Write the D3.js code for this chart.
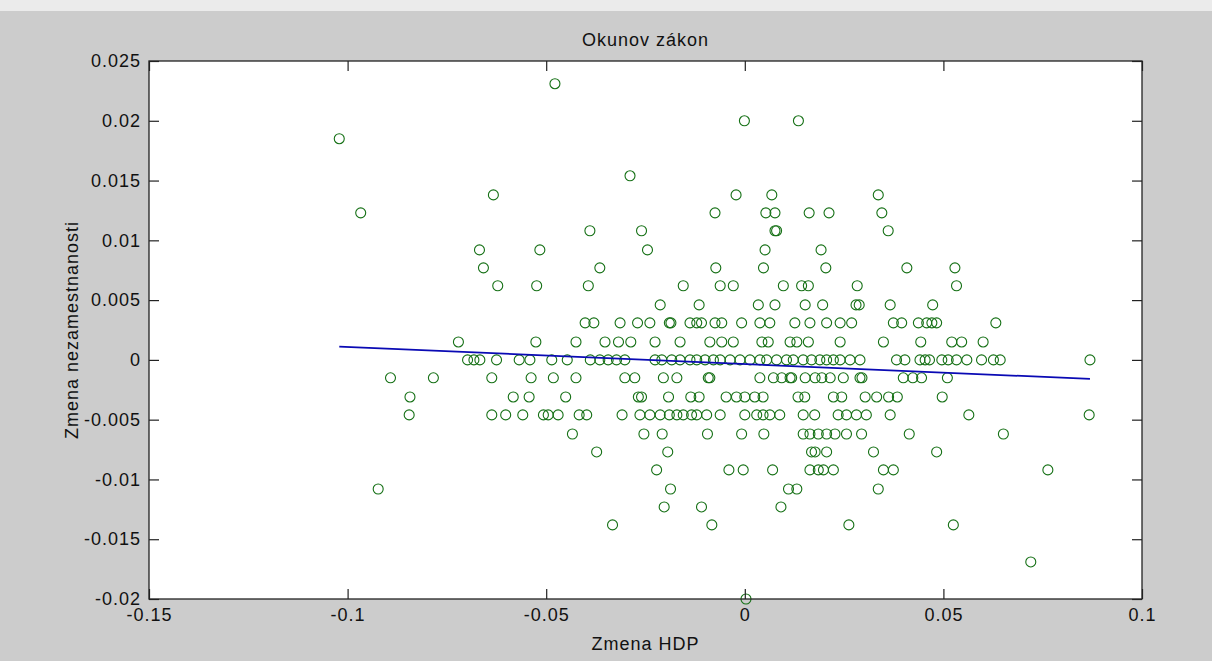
<!DOCTYPE html>
<html>
<head>
<meta charset="utf-8">
<script src="https://cdn.jsdelivr.net/npm/d3@7"></script>
<style>
  html, body { margin: 0; padding: 0; background: #cccccc; }
  svg { display: block; }
  text { font-family: "Liberation Sans", Arial, sans-serif; fill: #111; letter-spacing: 1px; }
</style>
</head>
<body>
<svg id="chart" width="1212" height="661"></svg>
<script>
// Change of GDP (x) and change of unemployment (y), one entry per quarter
const gdpChange = [
  -0.0478,
  -0.0001, 0.0135,
  -0.1021,
  -0.0289,
  -0.0633, -0.0022, 0.0068, 0.0336,
  -0.0967, -0.0075, 0.0053, 0.0076, 0.0162, 0.0212, 0.0345,
  -0.0390, -0.0260, 0.0076, 0.0080, 0.0361,
  -0.0668, -0.0516, -0.0245, 0.0051, 0.0192,
  -0.0658, -0.0365, -0.0073, 0.0047, 0.0204, 0.0408, 0.0529,
  -0.0622, -0.0524, -0.0394, -0.0155, -0.0062, -0.0029, 0.0097, 0.0143, 0.0160, 0.0283, 0.0533,
  -0.0213, -0.0115, 0.0034, 0.0076, 0.0152, 0.0196, 0.0280, 0.0288, 0.0366, 0.0473,
  -0.0402, -0.0380, -0.0314, -0.0270, -0.0239, -0.0190, -0.0186, -0.0138, -0.0121, -0.0109, -0.0075, -0.0058, -0.0008, 0.0038, 0.0063, 0.0126, 0.0164, 0.0206, 0.0240, 0.0269, 0.0374, 0.0395, 0.0437, 0.0458, 0.0471, 0.0483, 0.0632,
  -0.0721, -0.0526, -0.0425, -0.0352, -0.0318, -0.0287, -0.0226, -0.0163, -0.0088, -0.0058, -0.0029, 0.0043, 0.0059, 0.0114, 0.0131, 0.0160, 0.0240, 0.0349, 0.0443, 0.0521, 0.0546, 0.0600,
  -0.0698, -0.0682, -0.0667, -0.0625, -0.0568, -0.0541, -0.0486, -0.0447, -0.0389, -0.0365, -0.0344, -0.0323, -0.0302, -0.0226, -0.0209, -0.0184, -0.0163, -0.0138, -0.0121, -0.0100, -0.0079, -0.0062, -0.0037, -0.0012, 0.0013, 0.0038, 0.0055, 0.0080, 0.0105, 0.0122, 0.0147, 0.0168, 0.0189, 0.0206, 0.0223, 0.0240, 0.0265, 0.0290, 0.0382, 0.0403, 0.0441, 0.0454, 0.0465, 0.0496, 0.0512, 0.0533, 0.0559, 0.0596, 0.0626, 0.0643, 0.0869,
  -0.0892, -0.0784, -0.0637, -0.0538, -0.0482, -0.0425, -0.0302, -0.0277, -0.0205, -0.0171, -0.0092, -0.0088, 0.0038, 0.0072, 0.0093, 0.0114, 0.0118, 0.0152, 0.0177, 0.0194, 0.0215, 0.0248, 0.0290, 0.0295, 0.0399, 0.0423, 0.0445, 0.0510,
  -0.0843, -0.0583, -0.0543, -0.0451, -0.0268, -0.0260, -0.0192, -0.0136, -0.0115, -0.0047, -0.0021, 0.0000, 0.0025, 0.0046, 0.0134, 0.0151, 0.0223, 0.0244, 0.0303, 0.0332, 0.0362, 0.0384, 0.0497,
  -0.0845, -0.0637, -0.0602, -0.0559, -0.0507, -0.0495, -0.0470, -0.0417, -0.0398, -0.0309, -0.0264, -0.0239, -0.0213, -0.0190, -0.0171, -0.0155, -0.0134, -0.0121, -0.0096, -0.0062, 0.0000, 0.0030, 0.0046, 0.0063, 0.0088, 0.0147, 0.0176, 0.0235, 0.0256, 0.0281, 0.0306, 0.0366, 0.0564, 0.0867,
  -0.0434, -0.0254, -0.0208, -0.0094, -0.0008, 0.0048, 0.0147, 0.0164, 0.0185, 0.0206, 0.0227, 0.0256, 0.0294, 0.0414, 0.0651,
  -0.0373, -0.0194, 0.0168, 0.0177, 0.0206, 0.0324, 0.0483,
  -0.0222, -0.0040, -0.0004, 0.0070, 0.0164, 0.0185, 0.0198, 0.0223, 0.0349, 0.0374, 0.0763,
  -0.0923, -0.0187, 0.0110, 0.0131, 0.0336,
  -0.0203, -0.0109, 0.0091,
  -0.0333, -0.0083, 0.0262, 0.0525,
  0.0720,
  0.0003
];

const unemploymentChange = [
  0.0231,
  0.0200, 0.0200,
  0.0185,
  0.0154,
  0.0138, 0.0138, 0.0138, 0.0138,
  0.0123, 0.0123, 0.0123, 0.0123, 0.0123, 0.0123, 0.0123,
  0.0108, 0.0108, 0.0108, 0.0108, 0.0108,
  0.0092, 0.0092, 0.0092, 0.0092, 0.0092,
  0.0077, 0.0077, 0.0077, 0.0077, 0.0077, 0.0077, 0.0077,
  0.0062, 0.0062, 0.0062, 0.0062, 0.0062, 0.0062, 0.0062, 0.0062, 0.0062, 0.0062, 0.0062,
  0.0046, 0.0046, 0.0046, 0.0046, 0.0046, 0.0046, 0.0046, 0.0046, 0.0046, 0.0046,
  0.0031, 0.0031, 0.0031, 0.0031, 0.0031, 0.0031, 0.0031, 0.0031, 0.0031, 0.0031, 0.0031, 0.0031, 0.0031, 0.0031, 0.0031, 0.0031, 0.0031, 0.0031, 0.0031, 0.0031, 0.0031, 0.0031, 0.0031, 0.0031, 0.0031, 0.0031, 0.0031,
  0.0015, 0.0015, 0.0015, 0.0015, 0.0015, 0.0015, 0.0015, 0.0015, 0.0015, 0.0015, 0.0015, 0.0015, 0.0015, 0.0015, 0.0015, 0.0015, 0.0015, 0.0015, 0.0015, 0.0015, 0.0015, 0.0015,
  0, 0, 0, 0, 0, 0, 0, 0, 0, 0, 0, 0, 0, 0, 0, 0, 0, 0, 0, 0, 0, 0, 0, 0, 0, 0, 0, 0, 0, 0, 0, 0, 0, 0, 0, 0, 0, 0, 0, 0, 0, 0, 0, 0, 0, 0, 0, 0, 0, 0, 0,
  -0.0015, -0.0015, -0.0015, -0.0015, -0.0015, -0.0015, -0.0015, -0.0015, -0.0015, -0.0015, -0.0015, -0.0015, -0.0015, -0.0015, -0.0015, -0.0015, -0.0015, -0.0015, -0.0015, -0.0015, -0.0015, -0.0015, -0.0015, -0.0015, -0.0015, -0.0015, -0.0015, -0.0015,
  -0.0031, -0.0031, -0.0031, -0.0031, -0.0031, -0.0031, -0.0031, -0.0031, -0.0031, -0.0031, -0.0031, -0.0031, -0.0031, -0.0031, -0.0031, -0.0031, -0.0031, -0.0031, -0.0031, -0.0031, -0.0031, -0.0031, -0.0031,
  -0.0046, -0.0046, -0.0046, -0.0046, -0.0046, -0.0046, -0.0046, -0.0046, -0.0046, -0.0046, -0.0046, -0.0046, -0.0046, -0.0046, -0.0046, -0.0046, -0.0046, -0.0046, -0.0046, -0.0046, -0.0046, -0.0046, -0.0046, -0.0046, -0.0046, -0.0046, -0.0046, -0.0046, -0.0046, -0.0046, -0.0046, -0.0046, -0.0046, -0.0046,
  -0.0062, -0.0062, -0.0062, -0.0062, -0.0062, -0.0062, -0.0062, -0.0062, -0.0062, -0.0062, -0.0062, -0.0062, -0.0062, -0.0062, -0.0062,
  -0.0077, -0.0077, -0.0077, -0.0077, -0.0077, -0.0077, -0.0077,
  -0.0092, -0.0092, -0.0092, -0.0092, -0.0092, -0.0092, -0.0092, -0.0092, -0.0092, -0.0092, -0.0092,
  -0.0108, -0.0108, -0.0108, -0.0108, -0.0108,
  -0.0123, -0.0123, -0.0123,
  -0.0138, -0.0138, -0.0138, -0.0138,
  -0.0169,
  -0.0200
];

// Least-squares line end points
const fitX = [-0.1021, 0.0869];
const fitY = [0.00111, -0.00159];

const xTicks = [-0.15, -0.1, -0.05, 0, 0.05, 0.1];
const xTickLabels = ["-0.15", "-0.1", "-0.05", "0", "0.05", "0.1"];
const yTicks = [0.025, 0.02, 0.015, 0.01, 0.005, 0, -0.005, -0.01, -0.015, -0.02];
const yTickLabels = ["0.025", "0.02", "0.015", "0.01", "0.005", "0", "-0.005", "-0.01", "-0.015", "-0.02"];

const chartTitle = "Okunov zákon";
const xTitle = "Zmena HDP";
const yTitle = "Zmena nezamestnanosti";

const plot = { left: 149, right: 1142, top: 61, bottom: 599 };
const fontStack = '"Liberation Sans", Arial, sans-serif';

const svg = d3.select("#chart");

const x = d3.scaleLinear().domain([-0.15, 0.1]).range([plot.left, plot.right]);
const y = d3.scaleLinear().domain([-0.02, 0.025]).range([plot.bottom, plot.top]);

// figure background, light window strip along the top, axes face
svg.append("rect").attr("width", 1212).attr("height", 661).attr("fill", "#cccccc");
svg.append("rect").attr("width", 1212).attr("height", 11).attr("fill", "#ebebeb");
svg.append("rect")
  .attr("x", plot.left).attr("y", plot.top)
  .attr("width", plot.right - plot.left).attr("height", plot.bottom - plot.top)
  .attr("fill", "#ffffff");

const points = gdpChange.map((g, i) => ({ g, u: unemploymentChange[i] }));

svg.append("g")
  .selectAll("circle")
  .data(points)
  .join("circle")
  .attr("cx", d => x(d.g))
  .attr("cy", d => y(d.u))
  .attr("r", 5)
  .attr("fill", "none")
  .attr("stroke", "#157015")
  .attr("stroke-width", 1.1);

svg.append("path")
  .datum(fitX.map((v, i) => [v, fitY[i]]))
  .attr("d", d3.line().x(d => x(d[0])).y(d => y(d[1])))
  .attr("fill", "none")
  .attr("stroke", "#0a0ab4")
  .attr("stroke-width", 1.8);

// axes with inward ticks on all four sides
const tickLen = 10;
function styleAxis(g) {
  g.select(".domain").remove();
  g.selectAll(".tick line").attr("stroke", "#222").attr("stroke-width", 1.2);
  g.selectAll(".tick text")
    .style("font-family", fontStack)
    .style("font-size", "18px")
    .style("letter-spacing", "1px")
    .attr("fill", "#111");
}

svg.append("g")
  .attr("transform", `translate(0,${plot.bottom})`)
  .call(d3.axisBottom(x).tickValues(xTicks).tickFormat((d, i) => xTickLabels[i])
    .tickSizeInner(-tickLen).tickSizeOuter(0).tickPadding(9))
  .call(styleAxis);

svg.append("g")
  .attr("transform", `translate(0,${plot.top})`)
  .call(d3.axisTop(x).tickValues(xTicks).tickFormat("").tickSizeInner(-tickLen).tickSizeOuter(0))
  .call(styleAxis);

svg.append("g")
  .attr("transform", `translate(${plot.left},0)`)
  .call(d3.axisLeft(y).tickValues(yTicks).tickFormat((d, i) => yTickLabels[i])
    .tickSizeInner(-tickLen).tickSizeOuter(0).tickPadding(8))
  .call(styleAxis);

svg.append("g")
  .attr("transform", `translate(${plot.right},0)`)
  .call(d3.axisRight(y).tickValues(yTicks).tickFormat("").tickSizeInner(-tickLen).tickSizeOuter(0))
  .call(styleAxis);

// axes box
svg.append("rect")
  .attr("x", plot.left).attr("y", plot.top)
  .attr("width", plot.right - plot.left).attr("height", plot.bottom - plot.top)
  .attr("fill", "none").attr("stroke", "#222").attr("stroke-width", 1.3);

// titles
svg.append("text")
  .attr("x", (plot.left + plot.right) / 2).attr("y", 46)
  .attr("text-anchor", "middle")
  .style("font-size", "18px")
  .text(chartTitle);

svg.append("text")
  .attr("x", (plot.left + plot.right) / 2).attr("y", 650)
  .attr("text-anchor", "middle")
  .style("font-size", "18px")
  .text(xTitle);

svg.append("text")
  .attr("transform", `translate(78,${(plot.top + plot.bottom) / 2}) rotate(-90)`)
  .attr("text-anchor", "middle")
  .style("font-size", "18px")
  .text(yTitle);
</script>
</body>
</html>
